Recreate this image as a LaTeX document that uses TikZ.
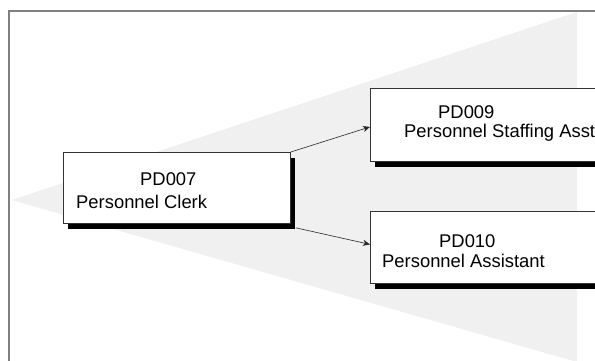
\documentclass[tikz,border=0pt]{standalone}
\usepackage{fontspec}
\setmainfont{Liberation Sans}
\usetikzlibrary{arrows.meta,shadows,calc}
\begin{document}
\begin{tikzpicture}[x=1pt,y=-1pt,
  posbox/.style={draw=black!80, line width=0.8pt, fill=white, inner sep=0pt, anchor=north west,
    drop shadow={shadow xshift=5pt, shadow yshift=-6pt, fill=black, opacity=1}},
  lbl/.style={anchor=base west, inner sep=0pt, font=\fontsize{18.4}{21}\selectfont},
  link/.style={draw=black!85, line width=0.6pt, -{Stealth[length=7pt,width=6pt,inset=2pt]}}]
\useasboundingbox (0,0) rectangle (595,360);
\fill[white] (0,0) rectangle (595,360);
% shaded wedge
\fill[gray!12] (12,200) -- (577,12) -- (577,362) -- cycle;
% frame
\draw[draw=black!50, line width=2pt] (9,370) -- (9,11) -- (610,11);
% boxes
\node[posbox, minimum width=227pt, minimum height=71pt] (b7) at (63,152) {};
\node[posbox, minimum width=260pt, minimum height=73pt] (b9) at (370,88) {};
\node[posbox, minimum width=260pt, minimum height=72pt] (b10) at (370,211) {};
% texts
\node[lbl] (t7a) at (140,185) {PD007};
\node[lbl] (t7b) at (76,208) {Personnel Clerk};
\node[lbl] (t9a) at (438,118) {PD009};
\node[lbl] (t9b) at (404,137) {Personnel Staffing Asst};
\node[lbl] (t10a) at (439,247) {PD010};
\node[lbl] (t10b) at (382,267) {Personnel Assistant};
% connectors
\coordinate (s2) at ($(b7.south east)+(5,4)$);
\draw[link] (b7.north east) -- ([yshift=-2pt]b9.west);
\draw[link] (s2) -- ([yshift=3pt]b10.west);
\end{tikzpicture}
\end{document}
